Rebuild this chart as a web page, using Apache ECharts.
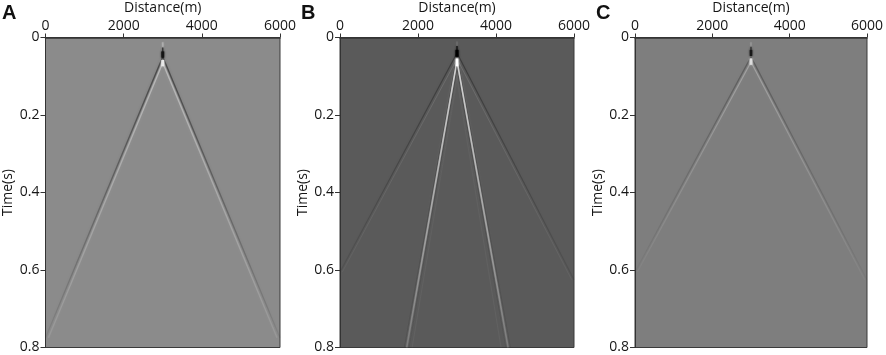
<!DOCTYPE html>
<html><head><meta charset="utf-8">
<style>html,body{margin:0;padding:0;background:#fff}#c{width:886px;height:355px;filter:blur(0.45px)}</style>
<script src="https://cdn.jsdelivr.net/npm/echarts@6/dist/echarts.min.js"></script>
</head><body><div id="c"></div>
<script>
const panelLetters = ['A','B','C'];
const distanceRange = [0, 6000];
const timeRange = [0, 0.8];
const xName = 'Distance(m)';
const yName = 'Time(s)';

// Wavefront picks: [distance, time]
const A_leftDark  = [[3000,0.050],[0,0.775]];
const A_leftLight = [[3000,0.065],[75,0.775]];
const A_rightDark = [[3000,0.050],[6000,0.775]];
const A_rightLight= [[3000,0.065],[5925,0.775]];
const A_apexFaint = [[3000,0.012],[3000,0.026]];
const A_apexTip   = [[3000,0.026],[3000,0.040]];
const A_apexDark  = [[3000,0.036],[3000,0.052]];
const A_apexLight = [[3000,0.058],[3000,0.074]];

const B_outerLeftDark   = [[3000,0.040],[0,0.605]];
const B_outerLeftLight  = [[3000,0.055],[60,0.605]];
const B_outerRightDark  = [[3000,0.040],[6000,0.625]];
const B_outerRightLight = [[3000,0.055],[5940,0.625]];
const B_innerLeftLight  = [[3000,0.060],[1710,0.800]];
const B_innerLeftDark1  = [[2975,0.060],[1650,0.800]];
const B_innerLeftDark2  = [[3025,0.065],[1770,0.800]];
const B_innerLeftGhost  = [[3030,0.090],[1850,0.800]];
const B_innerRightLight = [[3000,0.060],[4310,0.800]];
const B_innerRightDark1 = [[3025,0.060],[4370,0.800]];
const B_innerRightDark2 = [[2975,0.065],[4250,0.800]];
const B_innerRightGhost = [[2970,0.090],[4130,0.800]];
const B_apexFaint = [[3000,0.010],[3000,0.022]];
const B_apexTip   = [[3000,0.022],[3000,0.036]];
const B_apexDark  = [[3000,0.032],[3000,0.050]];
const B_apexLight = [[3000,0.054],[3000,0.074]];

const C_leftDark  = [[3000,0.050],[0,0.605]];
const C_leftLight = [[3000,0.063],[60,0.605]];
const C_rightDark = [[3000,0.050],[6000,0.625]];
const C_rightLight= [[3000,0.063],[5940,0.625]];
const C_apexFaint = [[3000,0.012],[3000,0.024]];
const C_apexTip   = [[3000,0.024],[3000,0.036]];
const C_apexDark  = [[3000,0.032],[3000,0.048]];
const C_apexLight = [[3000,0.054],[3000,0.070]];

const grids = [
  {left:45.5, top:37.5, width:234.5, height:310, bg:'#8b8b8b', letterX:2},
  {left:340,  top:37.5, width:234,   height:310, bg:'#5a5a5a', letterX:301},
  {left:635,  top:37.5, width:232,   height:310, bg:'#7e7e7e', letterX:596}
];
const fade = (rgb,a0,a1)=>({type:'linear',x:0,y:0,x2:0,y2:1,colorStops:[
  {offset:0,color:`rgba(${rgb},${a0})`},{offset:1,color:`rgba(${rgb},${a1})`}]});
const DK='35,35,35', LT='230,230,230';
const strokes = [
 [0,A_leftDark,DK,.65,.08,1.3],[0,A_leftLight,LT,.5,.12,1.4],[0,A_rightDark,DK,.65,.08,1.3],[0,A_rightLight,LT,.5,.12,1.4],
 [1,B_outerLeftDark,DK,.55,.14,1.2],[1,B_outerLeftLight,LT,.14,.05,1],[1,B_outerRightDark,DK,.55,.14,1.2],[1,B_outerRightLight,LT,.14,.05,1],
 [1,B_innerLeftDark1,DK,.5,.14,1.1],[1,B_innerLeftDark2,DK,.5,.1,1.1],[1,B_innerLeftGhost,LT,.04,.05,1],[1,B_innerLeftLight,LT,.85,.2,1.6],
 [1,B_innerRightDark1,DK,.5,.14,1.1],[1,B_innerRightDark2,DK,.5,.1,1.1],[1,B_innerRightGhost,LT,.04,.05,1],[1,B_innerRightLight,LT,.85,.2,1.6],
 [2,C_leftDark,DK,.38,.04,1.2],[2,C_leftLight,LT,.35,.04,1.2],[2,C_rightDark,DK,.38,.04,1.2],[2,C_rightLight,LT,.35,.04,1.2]
];
const apexes = [
 [0,A_apexFaint,'rgba(195,195,195,.55)',1.8],[0,A_apexTip,'rgba(30,30,30,.75)',1.2],[0,A_apexDark,'#141414',2.8],[0,A_apexLight,'#e8e8e8',2.8],
 [1,B_apexFaint,'rgba(125,125,125,.5)',1.6],[1,B_apexTip,'rgba(0,0,0,.8)',1.2],[1,B_apexDark,'#000000',3],[1,B_apexLight,'#ffffff',2.6],
 [2,C_apexFaint,'rgba(170,170,170,.5)',1.6],[2,C_apexTip,'rgba(20,20,20,.75)',1.1],[2,C_apexDark,'#181818',2.4],[2,C_apexLight,'#dedede',2.6]];
const series = [];
strokes.forEach(([g,d,rgb,a0,a1,w])=>series.push({type:'line',xAxisIndex:g,yAxisIndex:g,data:d,symbol:'none',silent:true,animation:false,
  lineStyle:{color:fade(rgb,a0,a1),width:w,shadowBlur:3,shadowColor:`rgba(${rgb},${a0*0.5})`}}));
apexes.forEach(([g,d,c,w])=>series.push({type:'line',xAxisIndex:g,yAxisIndex:g,data:d,symbol:'none',silent:true,animation:false,
  lineStyle:{color:c,width:w,shadowBlur:2,shadowColor:c}}));

const font='"Open Sans"', ink='#161616';
const opt={animation:false,backgroundColor:'#fff',
 graphic:grids.map((g,i)=>({type:'text',left:g.letterX,top:3,style:{text:panelLetters[i],font:'bold 20px "Liberation Sans"',fill:'#111'}})),
 grid:grids.map(g=>({left:g.left,top:g.top,width:g.width,height:g.height,show:true,backgroundColor:g.bg,borderColor:'#3a3a3a',borderWidth:1,containLabel:false,outerBoundsMode:'none'})),
 xAxis:grids.map((g,i)=>({gridIndex:i,type:'value',position:'top',min:distanceRange[0],max:distanceRange[1],interval:2000,
   name:xName,nameLocation:'middle',nameGap:20,nameTextStyle:{fontFamily:font,fontSize:14,color:ink},
   axisLine:{show:true,onZero:false,lineStyle:{color:'#333',width:1.5}},axisTick:{show:true,length:4,lineStyle:{color:'#333'}},
   axisLabel:{fontFamily:font,fontSize:14,color:ink,margin:4,formatter:v=>String(v),hideOverlap:false,showMinLabel:true,showMaxLabel:true},splitLine:{show:false}})),
 yAxis:grids.map((g,i)=>({gridIndex:i,type:'value',inverse:true,min:timeRange[0],max:timeRange[1],interval:0.2,
   name:yName,nameLocation:'middle',nameGap:30,nameTextStyle:{fontFamily:font,fontSize:14,color:ink},
   axisLine:{show:true,onZero:false,lineStyle:{color:'#333',width:1}},axisTick:{show:true,length:5,lineStyle:{color:'#333'}},
   axisLabel:{fontFamily:font,fontSize:14,color:ink,margin:6,showMinLabel:true,showMaxLabel:true},splitLine:{show:false}})),
 series};
echarts.init(document.getElementById('c'),null,{renderer:'canvas'}).setOption(opt);
</script></body></html>
